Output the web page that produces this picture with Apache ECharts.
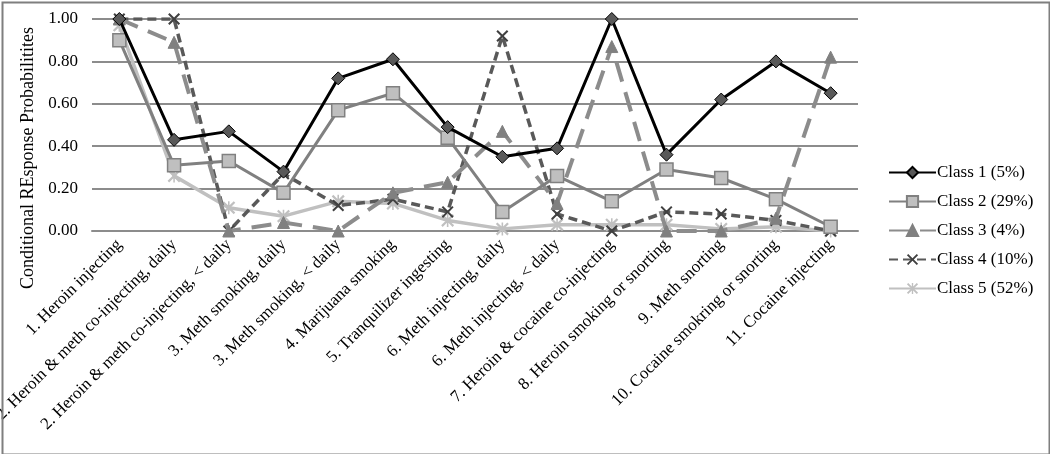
<!DOCTYPE html>
<html>
<head>
<meta charset="utf-8">
<script src="https://cdn.jsdelivr.net/npm/echarts@6/dist/echarts.min.js"></script>
<style>
html,body{margin:0;padding:0;background:#fff;}
#c{width:1050px;height:454px;}
</style>
</head>
<body>
<div id="c"></div>
<script>
const categories = [
  "1. Heroin injecting",
  "2. Heroin & meth co-injecting, daily",
  "2. Heroin & meth co-injecting, < daily",
  "3. Meth smoking, daily",
  "3. Meth smoking, < daily",
  "4. Marijuana smoking",
  "5. Tranquilizer ingesting",
  "6. Meth injecting, daily",
  "6. Meth injecting, < daily",
  "7. Heroin & cocaine co-injecting",
  "8. Heroin smoking or snorting",
  "9. Meth snorting",
  "10. Cocaine smokring or snorting",
  "11. Cocaine injecting"
];
const class1 = [1.00, 0.43, 0.47, 0.28, 0.72, 0.81, 0.49, 0.35, 0.39, 1.00, 0.36, 0.62, 0.80, 0.65];
const class2 = [0.90, 0.31, 0.33, 0.18, 0.57, 0.65, 0.44, 0.09, 0.26, 0.14, 0.29, 0.25, 0.15, 0.02];
const class3 = [1.00, 0.89, 0.00, 0.04, 0.00, 0.18, 0.23, 0.47, 0.13, 0.87, 0.00, 0.00, 0.06, 0.82];
const class4 = [1.00, 1.00, 0.00, 0.27, 0.12, 0.15, 0.09, 0.92, 0.08, 0.00, 0.09, 0.08, 0.05, 0.00];
const class5 = [0.97, 0.26, 0.11, 0.07, 0.14, 0.13, 0.05, 0.01, 0.03, 0.03, 0.03, 0.01, 0.02, 0.00];
const seriesNames = ["Class 1 (5%)", "Class 2 (29%)", "Class 3 (4%)", "Class 4 (10%)", "Class 5 (52%)"];
const yTicks = [0, 0.2, 0.4, 0.6, 0.8, 1.0];

const FONT = "'Liberation Serif', 'DejaVu Serif', serif";
const xPath = 'path://M0,1.2 L1.2,0 L5,3.8 L8.8,0 L10,1.2 L6.2,5 L10,8.8 L8.8,10 L5,6.2 L1.2,10 L0,8.8 L3.8,5 Z';
const starPath = 'path://M0,1.2 L1.2,0 L5,3.8 L8.8,0 L10,1.2 L6.2,5 L10,8.8 L8.8,10 L5,6.2 L1.2,10 L0,8.8 L3.8,5 Z M4.4,0 L5.6,0 L5.6,10 L4.4,10 Z';

const chart = echarts.init(document.getElementById('c'), null, {renderer: 'canvas'});
chart.setOption({
  animation: false,
  backgroundColor: '#fff',
  graphic: [{
    type: 'rect', left: 0, top: 0, z: 100, silent: true,
    shape: {x: 1, y: 1, width: 1047, height: 452},
    style: {fill: 'none', stroke: '#7f7f7f', lineWidth: 2}
  }],
  grid: {left: 92, right: 192, top: 19, bottom: 223, containLabel: false, outerBoundsMode: 'none'},
  legend: {
    orient: 'vertical', left: 883, top: 159, itemGap: 12,
    itemWidth: 47, itemHeight: 14,
    textStyle: {fontFamily: FONT, fontSize: 17, color: '#000', padding: [0, 0, 0, -4]},
    data: seriesNames
  },
  xAxis: {
    type: 'category', data: categories, boundaryGap: true,
    axisLine: {show: true, lineStyle: {color: '#8c8c8c', width: 2}},
    axisTick: {show: false},
    axisLabel: {interval: 0, rotate: 45, fontFamily: FONT, fontSize: 17, color: '#000', margin: 11}
  },
  yAxis: {
    type: 'value', min: 0, max: 1, interval: 0.2,
    name: 'Conditional REsponse Probabilitites', nameLocation: 'middle', nameGap: 46,
    nameTextStyle: {fontFamily: FONT, fontSize: 18, color: '#000', padding: [0, 66, 0, 0]},
    axisLine: {show: false}, axisTick: {show: false},
    axisLabel: {fontFamily: FONT, fontSize: 17, color: '#000', margin: 14,
      formatter: v => v.toFixed(2)},
    splitLine: {lineStyle: {color: '#8c8c8c', width: 2}}
  },
  series: [
    {name: seriesNames[0], type: 'line', data: class1, z: 6,
     symbol: 'diamond', symbolSize: 13,
     lineStyle: {color: '#000', width: 3},
     itemStyle: {color: '#595959', borderColor: '#000', borderWidth: 1}},
    {name: seriesNames[1], type: 'line', data: class2, z: 5,
     symbol: 'rect', symbolSize: 13,
     lineStyle: {color: '#808080', width: 3},
     itemStyle: {color: '#bfbfbf', borderColor: '#808080', borderWidth: 1.5}},
    {name: seriesNames[2], type: 'line', data: class3, z: 4,
     symbol: 'triangle', symbolSize: 12,
     lineStyle: {color: '#8c8c8c', width: 4, type: [20, 11]},
     itemStyle: {color: '#808080', borderColor: '#808080', borderWidth: 1}},
    {name: seriesNames[3], type: 'line', data: class4, z: 3,
     symbol: xPath, symbolSize: 12,
     lineStyle: {color: '#595959', width: 3.5, type: [9, 5]},
     itemStyle: {color: '#404040', borderWidth: 0}},
    {name: seriesNames[4], type: 'line', data: class5, z: 2,
     symbol: starPath, symbolSize: 13,
     lineStyle: {color: '#c0c0c0', width: 3.5},
     itemStyle: {color: '#c0c0c0', borderWidth: 0}}
  ]
});
</script>
</body>
</html>
